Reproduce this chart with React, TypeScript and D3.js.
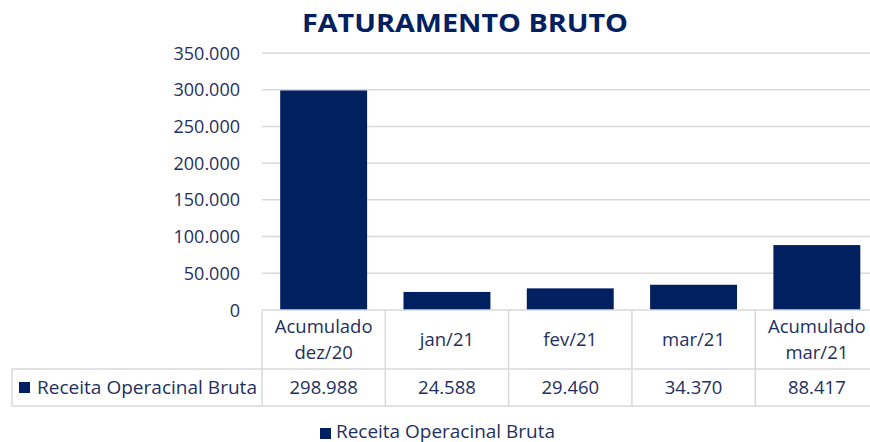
import React from "react";
import * as d3 from "d3";

const categories: string[][] = [
  ["Acumulado", "dez/20"],
  ["jan/21"],
  ["fev/21"],
  ["mar/21"],
  ["Acumulado", "mar/21"],
];
const values: number[] = [298988, 24588, 29460, 34370, 88417];
const yTicks: number[] = [0, 50000, 100000, 150000, 200000, 250000, 300000, 350000];
const seriesName = "Receita Operacinal Bruta";
const title = "FATURAMENTO BRUTO";

const W = 870;
const H = 442;
const plotLeft = 262;
const plotRight = 878.5;
const yTop = 53;
const yZero = 310;
const row1Bottom = 369;
const row2Bottom = 406;
const tableLeft = 12;

const barColor = "#002060";
const textColor = "#1f2f5e";
const gridColor = "#d9d9d9";
const font = "'Open Sans', 'Liberation Sans', sans-serif";

const locale = d3.formatLocale({ decimal: ",", thousands: ".", grouping: [3], currency: ["R$", ""] });
const fmt = locale.format(",.0f");

export default function App() {
  const x = d3
    .scaleBand<number>()
    .domain(d3.range(categories.length))
    .range([plotLeft, plotRight])
    .paddingInner(0)
    .paddingOuter(0);
  const y = d3.scaleLinear().domain([0, 350000]).range([yZero, yTop]);
  const bw = x.bandwidth();
  const barW = bw * 0.705;

  return (
    <svg
      width={W}
      height={H}
      style={{ position: "absolute", left: 0, top: 0, background: "#fff" }}
      fontFamily={font}
    >
      <rect x={0} y={0} width={W} height={H} fill="#fff" />
      <text
        x={465}
        y={32}
        textAnchor="middle"
        fontSize={24.5}
        fontWeight={700}
        fill={barColor}
        textLength={326}
        lengthAdjust="spacingAndGlyphs"
      >
        {title}
      </text>

      {yTicks.map((t) => (
        <g key={t}>
          {t > 0 && (
            <line x1={plotLeft} x2={W} y1={y(t)} y2={y(t)} stroke={gridColor} strokeWidth={1.5} />
          )}
          <text x={240} y={y(t) + 6.5} textAnchor="end" fontSize={18} fill={textColor}>
            {fmt(t)}
          </text>
        </g>
      ))}

      {values.map((v, i) => (
        <rect
          key={i}
          x={(x(i) as number) + (bw - barW) / 2}
          y={y(v)}
          width={barW}
          height={yZero - y(v)}
          fill={barColor}
        />
      ))}

      {/* table lines */}
      <g stroke={gridColor} strokeWidth={1.5}>
        <line x1={plotLeft} x2={W} y1={yZero} y2={yZero} />
        <line x1={tableLeft} x2={W} y1={row1Bottom} y2={row1Bottom} />
        <line x1={tableLeft} x2={W} y1={row2Bottom} y2={row2Bottom} />
        <line x1={tableLeft} x2={tableLeft} y1={row1Bottom} y2={row2Bottom} />
        {d3.range(categories.length + 1).map((i) => {
          const xx = i < categories.length ? (x(i) as number) : plotRight;
          return <line key={i} x1={xx} x2={xx} y1={yZero} y2={row2Bottom} />;
        })}
      </g>

      {categories.map((lines, i) => {
        const cx = (x(i) as number) + bw / 2;
        const baselines = lines.length === 2 ? [333, 358.5] : [346];
        return (
          <g key={i}>
            {lines.map((l, j) => (
              <text key={j} x={cx} y={baselines[j]} textAnchor="middle" fontSize={18.5} fill={textColor}>
                {l}
              </text>
            ))}
            <text x={cx} y={394} textAnchor="middle" fontSize={18.5} fill={textColor}>
              {fmt(values[i])}
            </text>
          </g>
        );
      })}

      <rect x={19} y={382} width={11} height={11} fill={barColor} />
      <text x={37} y={394} fontSize={18.5} fill={textColor} textLength={220} lengthAdjust="spacingAndGlyphs">
        {seriesName}
      </text>

      <rect x={320} y={428} width={11} height={11} fill={barColor} />
      <text x={336} y={437.5} fontSize={18.5} fill={textColor} textLength={219} lengthAdjust="spacingAndGlyphs">
        {seriesName}
      </text>
    </svg>
  );
}
